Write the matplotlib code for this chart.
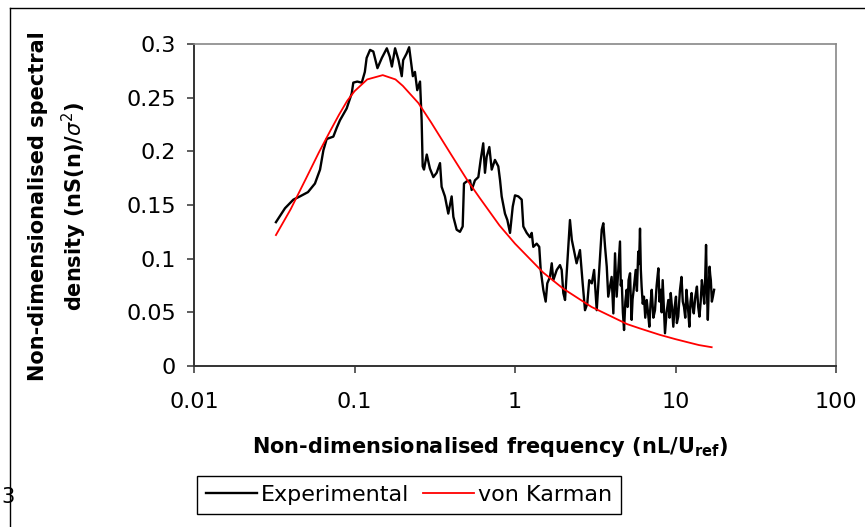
import matplotlib
matplotlib.use("Agg")
import matplotlib.pyplot as plt
from matplotlib.lines import Line2D
from matplotlib.ticker import NullLocator

# experimental spectrum
exp_freq = [0.0324, 0.0369, 0.0416, 0.0457, 0.0513, 0.0567, 0.061, 0.064, 0.0671, 0.0738,
            0.0775, 0.0812, 0.0894, 0.0961, 0.0983, 0.104, 0.111, 0.116, 0.119, 0.125,
            0.131, 0.139, 0.148, 0.159, 0.166, 0.171, 0.179, 0.188, 0.197, 0.201,
            0.211, 0.219, 0.231, 0.238, 0.246, 0.256, 0.262, 0.266, 0.271, 0.282,
            0.295, 0.310, 0.325, 0.341, 0.349, 0.366, 0.384, 0.403, 0.413, 0.433,
            0.454, 0.472, 0.481, 0.500, 0.525, 0.537, 0.563, 0.591, 0.611, 0.634,
            0.650, 0.666, 0.692, 0.716, 0.750, 0.787, 0.807, 0.826, 0.866, 0.896,
            0.931, 0.968, 1.0, 1.049, 1.101, 1.127, 1.183, 1.240, 1.271, 1.300,
            1.365, 1.416, 1.446, 1.501, 1.553, 1.589, 1.652, 1.694, 1.733, 1.820,
            1.907, 1.954, 2.0, 2.05, 2.10, 2.15, 2.20, 2.26, 2.33, 2.42,
            2.54, 2.64, 2.73, 2.82, 2.90, 3.01, 3.11, 3.23, 3.34, 3.47,
            3.55, 3.64, 3.73, 3.81, 4.00, 4.10, 4.20, 4.30,
            4.51, 4.56, 4.62, 4.70, 4.78, 4.87, 4.96, 5.03, 5.10, 5.21,
            5.27, 5.33, 5.40, 5.46, 5.55, 5.65, 5.75, 5.86, 5.93, 6.01,
            6.08, 6.15, 6.25, 6.36, 6.48, 6.62, 6.74, 6.87, 6.99, 7.11,
            7.28, 7.45, 7.63, 7.82, 7.95, 8.09, 8.20, 8.32, 8.46, 8.60,
            8.80, 9.02, 9.18, 9.34, 9.50, 9.69, 9.88, 10.07, 10.2, 10.4,
            10.65, 10.9, 11.1, 11.3, 11.5, 11.7, 11.95, 12.2, 12.4, 12.6,
            12.8, 13.0, 13.3, 13.6, 13.85, 14.1, 14.35, 14.6, 14.85, 15.1,
            15.3, 15.5, 15.7, 15.9, 16.1, 16.3, 16.45, 16.6, 16.85, 17.1,
            17.4]
exp_vals = [0.134, 0.147, 0.155, 0.158, 0.162, 0.170, 0.183, 0.201, 0.2115, 0.2137,
            0.222, 0.229, 0.240, 0.254, 0.264, 0.265, 0.264, 0.274, 0.287, 0.2945,
            0.293, 0.2775, 0.287, 0.296, 0.288, 0.279, 0.296, 0.285, 0.270, 0.285,
            0.291, 0.297, 0.270, 0.274, 0.257, 0.265, 0.229, 0.186, 0.183, 0.197,
            0.184, 0.176, 0.180, 0.189, 0.167, 0.158, 0.142, 0.158, 0.139, 0.127,
            0.125, 0.130, 0.170, 0.172, 0.173, 0.164, 0.173, 0.176, 0.192, 0.2075,
            0.180, 0.195, 0.204, 0.183, 0.192, 0.186, 0.173, 0.158, 0.142, 0.136,
            0.124, 0.1485, 0.159, 0.158, 0.155, 0.130, 0.124, 0.120, 0.124, 0.111,
            0.114, 0.111, 0.0895, 0.071, 0.060, 0.077, 0.083, 0.0957, 0.080, 0.0895,
            0.094, 0.0895, 0.068, 0.0615, 0.0864, 0.111, 0.136, 0.1175, 0.108, 0.0957,
            0.108, 0.077, 0.052, 0.058, 0.080, 0.077, 0.0895, 0.052, 0.0864, 0.127,
            0.133, 0.111, 0.0925, 0.0646, 0.083, 0.049, 0.105, 0.0646,
            0.116, 0.075, 0.080, 0.050, 0.0335, 0.060, 0.071, 0.055, 0.080, 0.0864,
            0.060, 0.043, 0.062, 0.068, 0.078, 0.0895, 0.070, 0.1065, 0.095, 0.128,
            0.090, 0.074, 0.058, 0.0646, 0.045, 0.0615, 0.050, 0.0366, 0.058, 0.071,
            0.045, 0.052, 0.075, 0.091, 0.060, 0.071, 0.050, 0.080, 0.055, 0.0305,
            0.050, 0.0615, 0.045, 0.068, 0.055, 0.0366, 0.055, 0.0646, 0.040, 0.046,
            0.070, 0.083, 0.060, 0.055, 0.045, 0.071, 0.055, 0.0366, 0.060, 0.068,
            0.055, 0.049, 0.065, 0.074, 0.055, 0.046, 0.060, 0.080, 0.070, 0.058,
            0.080, 0.1128, 0.070, 0.043, 0.070, 0.0925, 0.085, 0.080, 0.060, 0.0646,
            0.071]

# von Karman spectrum
vk_freq = [0.0324, 0.04, 0.05, 0.06, 0.07, 0.08, 0.09, 0.1, 0.12, 0.15,
           0.18, 0.2, 0.25, 0.3, 0.4, 0.5, 0.6, 0.8, 1.0, 1.5,
           2.0, 3.0, 4.0, 5.0, 6.0, 8.0, 10.0, 12.0, 14.0, 16.8]
vk_vals = [0.122, 0.146, 0.175, 0.199, 0.218, 0.234, 0.247, 0.256, 0.267, 0.271,
           0.267, 0.261, 0.245, 0.227, 0.197, 0.174, 0.157, 0.131, 0.114, 0.087,
           0.072, 0.055, 0.046, 0.039, 0.035, 0.029, 0.025, 0.022, 0.0195, 0.0175]

x_ticks = [0.01, 0.1, 1, 10, 100]
x_labels = ["0.01", "0.1", "1", "10", "100"]
y_ticks = [0, 0.05, 0.1, 0.15, 0.2, 0.25, 0.3]
y_labels = ["0", "0.05", "0.1", "0.15", "0.2", "0.25", "0.3"]

W, H = 865, 527
fig = plt.figure(figsize=(W / 100, H / 100), dpi=100)
ax = fig.add_axes([194 / W, 1 - 366 / H, (836 - 194) / W, (366 - 44) / H])

ax.plot(exp_freq, exp_vals, color="black", lw=1.7, label="Experimental", zorder=3)
ax.plot(vk_freq, vk_vals, color="red", lw=1.3, label="von Karman", zorder=4)

ax.set_xscale("log")
ax.set_xlim(0.01, 100)
ax.set_ylim(0, 0.3)
ax.set_xticks(x_ticks)
ax.set_xticklabels(x_labels)
ax.xaxis.set_minor_locator(NullLocator())
ax.set_yticks(y_ticks)
ax.set_yticklabels(y_labels)

for s in ["left", "bottom"]:
    ax.spines[s].set_color("#333333")
    ax.spines[s].set_linewidth(1.4)
for s in ["top", "right"]:
    ax.spines[s].set_color("#888888")
    ax.spines[s].set_linewidth(1.2)

ax.tick_params(axis="both", direction="out", length=5, width=1.1, color="#333333", labelsize=16)
ax.tick_params(axis="y", pad=8)
ax.tick_params(axis="x", pad=14)

fig.text(490 / W, 1 - 447 / H, r"Non-dimensionalised frequency (nL/U$_{\mathbf{ref}}$)",
         ha="center", va="center", fontsize=15, fontweight="bold")
fig.text(38 / W, 1 - 206 / H, "Non-dimensionalised spectral", rotation=90,
         ha="center", va="center", fontsize=15, fontweight="bold")
fig.text(74 / W, 1 - 206 / H, r"density (nS(n)/$\sigma^2$)", rotation=90,
         ha="center", va="center", fontsize=15, fontweight="bold")

leg = ax.legend(loc="center", bbox_to_anchor=(409 / W, 1 - 495 / H), bbox_transform=fig.transFigure,
                ncol=2, fontsize=16, frameon=True, fancybox=False, framealpha=1,
                edgecolor="black", handlelength=2.3, handletextpad=0.2,
                columnspacing=0.6, borderpad=0.4, borderaxespad=0)
leg.get_frame().set_linewidth(1.0)

# outer chart border and stray page number
fig.add_artist(Line2D([10 / W, 10 / W], [0, 1 - 8 / H], transform=fig.transFigure, color="black", lw=1))
fig.add_artist(Line2D([10 / W, 1], [1 - 8 / H, 1 - 8 / H], transform=fig.transFigure, color="black", lw=1))
fig.text(1 / W, 1 - 497 / H, "3", ha="left", va="center", fontsize=15)

fig.savefig("out.png", dpi=100)
